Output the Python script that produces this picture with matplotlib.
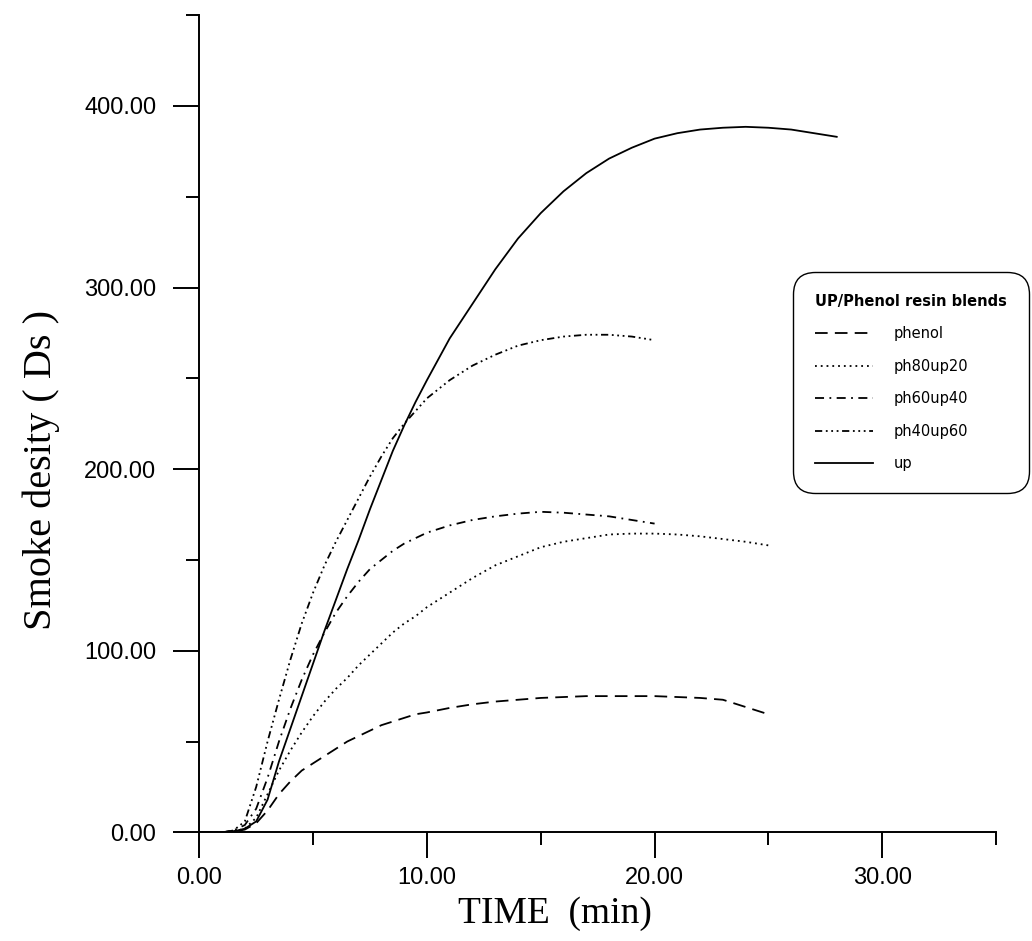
import matplotlib
matplotlib.use("agg")
import matplotlib.pyplot as plt
from matplotlib.ticker import MultipleLocator, FixedLocator, FuncFormatter

# smoke density (Ds) vs time (min)
t_phenol = [0, 1, 1.5, 2, 2.5, 3, 3.5, 4, 4.5, 5, 5.5, 6, 6.5, 7, 7.5, 8, 8.5, 9, 9.5, 10,
            11, 12, 13, 14, 15, 16, 17, 18, 19, 20, 21, 22, 23, 23.5, 24, 25]
phenol = [0, 0, 0.3, 1.5, 5, 12, 21, 28, 34, 38, 42, 46, 50, 53, 56, 59, 61, 63, 65, 66,
          68.5, 70.5, 72, 73, 74, 74.5, 75, 75, 75, 75, 74.5, 74, 73, 71, 69, 65]

t_ph80up20 = [0, 1, 1.5, 2, 2.5, 3, 3.5, 4, 4.5, 5, 5.5, 6, 6.5, 7, 7.5, 8, 8.5, 9, 9.5, 10,
              11, 12, 13, 14, 15, 16, 17, 18, 19, 20, 21, 22, 23, 24, 25]
ph80up20 = [0, 0, 0.5, 2, 8, 21, 34, 45, 55, 64, 72, 79, 85, 92, 98, 104, 110, 115, 119, 124,
            132, 140, 147, 152, 157, 160, 162, 164, 164.5, 164.5, 164, 163, 161.5, 160, 158]

t_ph60up40 = [0, 1, 1.5, 2, 2.5, 3, 3.5, 4, 4.5, 5, 5.5, 6, 6.5, 7, 7.5, 8, 8.5, 9, 9.5, 10,
              11, 12, 13, 14, 15, 16, 17, 18, 19, 20]
ph60up40 = [0, 0, 1, 4, 13, 30, 50, 68, 84, 98, 110, 121, 130, 138, 145, 150, 155, 159, 162, 165,
            169, 172, 174, 175.5, 176.5, 176, 175, 174, 172, 170]

t_ph40up60 = [0, 1, 1.5, 2, 2.5, 3, 3.5, 4, 4.5, 5, 5.5, 6, 6.5, 7, 7.5, 8, 8.5, 9, 9.5, 10,
              11, 12, 13, 14, 15, 16, 17, 18, 19, 20]
ph40up60 = [0, 0, 1, 6, 25, 50, 73, 95, 115, 132, 147, 160, 172, 184, 196, 207, 217, 225, 232, 239,
            249, 257, 263, 268, 271, 273, 274, 274, 273, 271]

t_up = [0, 1, 1.5, 2, 2.5, 3, 3.5, 4, 4.5, 5, 5.5, 6, 6.5, 7, 7.5, 8, 8.5, 9, 9.5, 10,
        11, 12, 13, 14, 15, 16, 17, 18, 19, 20, 21, 22, 23, 24, 25, 26, 27, 28]
up = [0, 0, 0.5, 2, 6, 18, 39, 57, 75, 93, 111, 128, 145, 161, 178, 194, 210, 224, 237, 249,
      272, 291, 310, 327, 341, 353, 363, 371, 377, 382, 385, 387, 388, 388.5, 388, 387, 385, 383]

labels = ["phenol", "ph80up20", "ph60up40", "ph40up60", "up"]

fig = plt.figure(figsize=(10.32, 9.41), dpi=100)
ax = fig.add_axes([0.1931, 0.1155, 0.7721, 0.8684])

lw = 1.3
ax.plot(t_phenol, phenol, color="black", lw=lw, linestyle=(0, (7, 4)), label=labels[0])
ax.plot(t_ph80up20, ph80up20, color="black", lw=lw, linestyle=(0, (1, 2.2)), label=labels[1])
ax.plot(t_ph60up40, ph60up40, color="black", lw=lw, linestyle=(0, (5, 3, 1, 3)), label=labels[2])
ax.plot(t_ph40up60, ph40up60, color="black", lw=lw,
        linestyle=(0, (4, 2, 1, 2, 1, 2, 1, 2)), label=labels[3])
ax.plot(t_up, up, color="black", lw=lw, label=labels[4])

ax.set_xlim(0, 35)
ax.set_ylim(0, 450)
for s in ["top", "right"]:
    ax.spines[s].set_visible(False)
for s in ["left", "bottom"]:
    ax.spines[s].set_linewidth(1.4)

ax.xaxis.set_major_locator(MultipleLocator(10))
ax.xaxis.set_minor_locator(FixedLocator([5, 15, 25, 35]))
ax.yaxis.set_major_locator(FixedLocator([0, 100, 200, 300, 400]))
ax.yaxis.set_minor_locator(FixedLocator([50, 150, 250, 350, 450]))
fmt = FuncFormatter(lambda v, p: f"{v:.2f}")
ax.xaxis.set_major_formatter(fmt)
ax.yaxis.set_major_formatter(fmt)
ax.tick_params(which="major", length=19, width=1.4, labelsize=17)
ax.tick_params(which="minor", length=9.5, width=1.4)
ax.tick_params(axis="x", which="major", pad=6)
ax.tick_params(axis="y", which="major", pad=12)
for lab in ax.get_xticklabels() + ax.get_yticklabels():
    lab.set_family("Liberation Sans")

ax.set_xlabel("TIME  (min)", fontsize=27, family="Liberation Serif")
ax.set_ylabel("Smoke desity ( Ds )", fontsize=29, family="Liberation Serif")
ax.xaxis.set_label_coords(0.446, -0.079)
ax.yaxis.set_label_coords(-0.175, 0.443)

leg = ax.legend(title="UP/Phenol resin blends", loc="upper left",
                bbox_to_anchor=(793 / 1032, 1 - 272 / 941), bbox_transform=fig.transFigure,
                borderaxespad=0,
                prop={"family": "DejaVu Sans", "size": 10.5},
                title_fontproperties={"family": "DejaVu Sans", "weight": "bold", "size": 10.5},
                handlelength=4.0, handletextpad=1.4, labelspacing=1.2, borderpad=1.5,
                alignment="left", fancybox=True, framealpha=1, edgecolor="black")
leg.get_frame().set_linewidth(1.0)
leg.get_frame().set_boxstyle("round,pad=0,rounding_size=1.5")

fig.savefig("out.png", dpi=100)
